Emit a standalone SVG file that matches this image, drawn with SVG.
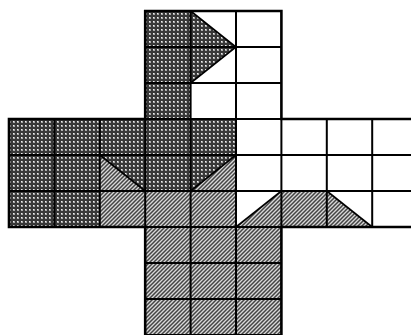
<svg xmlns="http://www.w3.org/2000/svg" width="411" height="335" viewBox="0 0 411 335">
  <style>
    .grid { stroke: #000; stroke-width: 2; fill: none; }
    .diag { stroke: #000; stroke-width: 1.6; fill: none; }
    .outer { stroke: #000; stroke-width: 2.6; fill: none; stroke-linejoin: miter; }
  </style>
  <defs>
    <pattern id="stipple" width="4" height="4" patternUnits="userSpaceOnUse">
      <rect width="4" height="4" fill="#383838"/>
      <rect x="1" y="1" width="2" height="2" fill="#aaa"/>
      <rect x="1" y="1" width="1" height="1" fill="#f0f0f0"/>
    </pattern>
    <pattern id="hatch" width="4" height="4" patternUnits="userSpaceOnUse">
      <rect width="4" height="4" fill="#d8d8d8"/>
      <path d="M-1,1 L1,-1 M0,4 L4,0 M3,5 L5,3" stroke="#444" stroke-width="1.5"/>
    </pattern>
  </defs>
  <rect width="411" height="335" fill="#fff"/>
  <g id="background">
    <rect x="145.2" y="11" width="136.2" height="330" fill="#fff"/>
    <rect x="9" y="119" width="411" height="108" fill="#fff"/>
  </g>
  <g id="dark-region">
    <polygon fill="url(#stipple)" points="145.2,11 190.6,11 236,47 190.6,83 190.6,119 236,119 236,155 190.6,191 145.2,191 99.8,155 99.8,227 9,227 9,119 145.2,119"/>
  </g>
  <g id="hatched-region">
    <polygon fill="url(#hatch)" points="99.8,155 145.2,191 190.6,191 236,155 236,227 281.4,191 326.8,191 372.2,227 281.4,227 281.4,341 145.2,341 145.2,227 99.8,227"/>
  </g>
  <g id="grid" class="grid">
    <path d="M145.2,47 H281.4 M145.2,83 H281.4 M145.2,119 H281.4 M145.2,227 H281.4 M145.2,263 H281.4 M145.2,299 H281.4 M145.2,335 H281.4"/>
    <path d="M9,155 H420 M9,191 H420 M145.2,119 V227 M281.4,119 V227"/>
    <path d="M190.6,11 V341 M236,11 V341"/>
    <path d="M54.4,119 V227 M99.8,119 V227 M326.8,119 V227 M372.2,119 V227"/>
  </g>
  <g id="diagonals" class="diag">
    <path d="M190.6,11 L236,47 L190.6,83"/>
    <path d="M99.8,155 L145.2,191"/>
    <path d="M236,155 L190.6,191"/>
    <path d="M281.4,191 L236,227"/>
    <path d="M326.8,191 L372.2,227"/>
  </g>
  <g id="outline" class="outer">
    <path d="M420,119 H281.4 V11 H145.2 V119 H9 V227 H145.2 V341"/>
    <path d="M281.4,341 V227 H420"/>
  </g>
</svg>
